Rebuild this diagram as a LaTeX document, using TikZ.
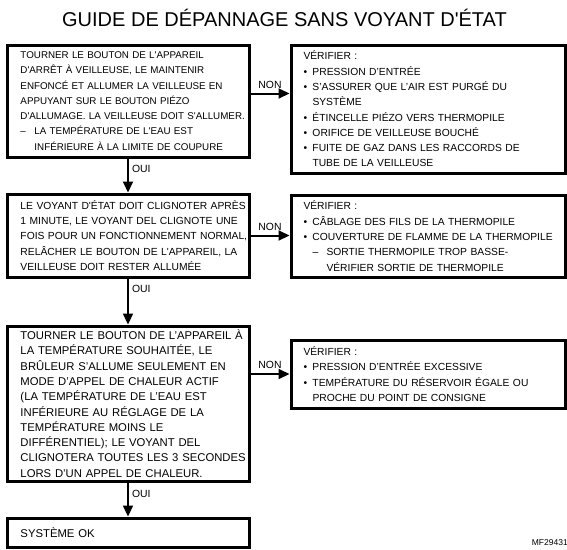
\documentclass[tikz,border=0pt]{standalone}
\usepackage{fontspec}
\setmainfont{Liberation Sans}
\usetikzlibrary{arrows.meta,positioning}
\newcommand{\aq}{\textquotesingle}
\newcommand{\puce}[1]{\makebox[9pt][l]{•}#1}
\newcommand{\suite}[1]{\hspace*{9pt}#1}
\newcommand{\tiret}[1]{\makebox[14pt][l]{–}#1}
\tikzset{
  box/.style   = {draw, line width=3pt, anchor=north west, inner xsep=1.5pt, inner ysep=0pt, align=left,
                  execute at begin node={\leftskip=12pt}, font=\fontsize{10.3}{15.3}\selectfont},
  droite/.style = {execute at begin node={\leftskip=11pt}},
  petit/.style = {font=\fontsize{9.8}{15.3}\selectfont},
  grand/.style = {font=\fontsize{11.3}{15.3}\selectfont},
  line/.style  = {-{Triangle[length=11pt,width=10pt]}, line width=2pt},
  oui/.style   = {anchor=west, inner sep=3pt, font=\fontsize{10.4}{12}\selectfont},
  non/.style   = {above=4pt, inner sep=0pt, font=\fontsize{10.4}{12}\selectfont},
}
\begin{document}
\begin{tikzpicture}[x=1pt,y=-1pt]
    \useasboundingbox (0,0) rectangle (567,549);
    \node[font=\fontsize{20}{24}\selectfont] (titre) at (284.5,18) {GUIDE DE DÉPANNAGE SANS VOYANT D\aq ÉTAT};

    % colonne de gauche
    \node[box, petit, text width=239pt, minimum width=242pt, minimum height=112pt] (tourner) at (5.5,43.5)
      {TOURNER LE BOUTON DE L\aq APPAREIL\\
       D\aq ARRÊT À VEILLEUSE, LE MAINTENIR\\
       ENFONCÉ ET ALLUMER LA VEILLEUSE EN\\
       APPUYANT SUR LE BOUTON PIÉZO\\
       D\aq ALLUMAGE. LA VEILLEUSE DOIT S\aq ALLUMER.\\
       \tiret{LA TEMPÉRATURE DE L\aq EAU EST}\\
       \hspace*{14pt}INFÉRIEURE À LA LIMITE DE COUPURE};
    \node[box, text width=239pt, minimum width=242pt, minimum height=83pt] (voyant) at (5.5,192.5)
      {LE VOYANT D\aq ÉTAT DOIT CLIGNOTER APRÈS\\
       1 MINUTE, LE VOYANT DEL CLIGNOTE UNE\\
       FOIS POUR UN FONCTIONNEMENT NORMAL,\\
       RELÂCHER LE BOUTON DE L\aq APPAREIL, LA\\
       VEILLEUSE DOIT RESTER ALLUMÉE};
    \node[box, grand, text width=239pt, minimum width=242pt, minimum height=155pt] (reglage) at (5.5,324.5)
      {TOURNER LE BOUTON DE L’APPAREIL À\\
       LA TEMPÉRATURE SOUHAITÉE, LE\\
       BRÛLEUR S’ALLUME SEULEMENT EN\\
       MODE D’APPEL DE CHALEUR ACTIF\\
       (LA TEMPÉRATURE DE L’EAU EST\\
       INFÉRIEURE AU RÉGLAGE DE LA\\
       TEMPÉRATURE MOINS LE\\
       DIFFÉRENTIEL); LE VOYANT DEL\\
       CLIGNOTERA TOUTES LES 3 SECONDES\\
       LORS D’UN APPEL DE CHALEUR.};
    \node[box, grand, text width=239pt, minimum width=242pt, minimum height=29pt] (ok) at (5.5,516.5)
      {SYSTÈME OK};

    % colonne de droite
    \node[box, droite, text width=271pt, minimum width=274pt, minimum height=128pt] (verif1) at (289.5,43.5)
      {VÉRIFIER :\\
       \puce{PRESSION D’ENTRÉE}\\
       \puce{S’ASSURER QUE L’AIR EST PURGÉ DU}\\
       \suite{SYSTÈME}\\
       \puce{ÉTINCELLE PIÉZO VERS THERMOPILE}\\
       \puce{ORIFICE DE VEILLEUSE BOUCHÉ}\\
       \puce{FUITE DE GAZ DANS LES RACCORDS DE}\\
       \suite{TUBE DE LA VEILLEUSE}};
    \node[box, droite, text width=271pt, minimum width=274pt, minimum height=82pt] (verif2) at (289.5,193.5)
      {VÉRIFIER :\\
       \puce{CÂBLAGE DES FILS DE LA THERMOPILE}\\
       \puce{COUVERTURE DE FLAMME DE LA THERMOPILE}\\
       \suite{\tiret{SORTIE THERMOPILE TROP BASSE-}}\\
       \suite{\hspace*{14pt}VÉRIFIER SORTIE DE THERMOPILE}};
    \node[box, droite, text width=271pt, minimum width=274pt, minimum height=68pt] (verif3) at (289.5,338.5)
      {VÉRIFIER :\\
       \puce{PRESSION D’ENTRÉE EXCESSIVE}\\
       \puce{TEMPÉRATURE DU RÉSERVOIR ÉGALE OU}\\
       \suite{PROCHE DU POINT DE CONSIGNE}};

    \node[anchor=east, inner sep=0pt, font=\fontsize{8.5}{9}\selectfont] (ref) at (568,543) {MF29431};

    \draw[line] (tourner) -- (voyant) node[oui, pos=0.3] {OUI};
    \draw[line] (voyant) -- (reglage) node[oui, pos=0.22] {OUI};
    \draw[line] (reglage) -- (ok) node[oui, pos=0.35] {OUI};

    \draw[line] ([yshift=7.5pt]tourner.east) -- ([yshift=7.5pt]tourner.east -| verif1.west) node[non, midway] {NON};
    \draw[line] (voyant.east) -- (voyant.east -| verif2.west) node[non, midway] {NON};
    \draw[line] (reglage.east |- verif3.west) -- (verif3.west) node[non, midway] {NON};
  \end{tikzpicture}
\end{document}
